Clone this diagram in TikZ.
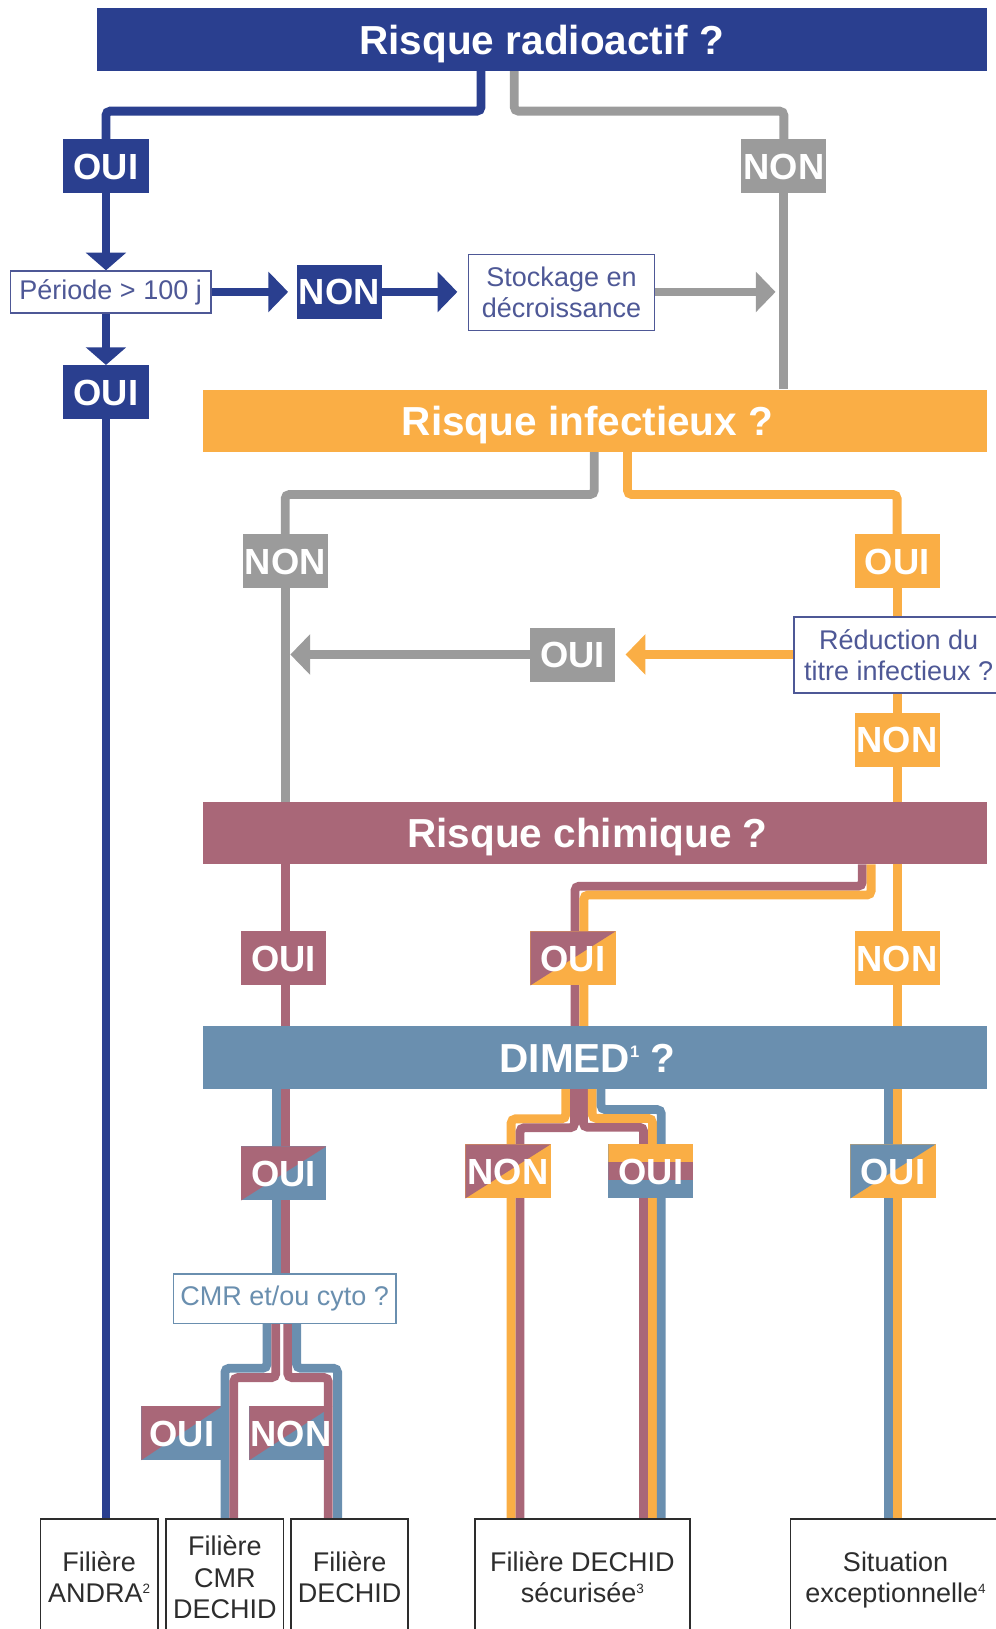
\documentclass[tikz,border=0pt]{standalone}
\usepackage{fontspec}
\setmainfont{Liberation Sans}
\usetikzlibrary{arrows.meta,backgrounds}
\definecolor{navy}{RGB}{42,63,143}
\definecolor{gris}{RGB}{155,155,155}
\definecolor{orng}{RGB}{250,174,69}
\definecolor{mauv}{RGB}{169,103,120}
\definecolor{stl}{RGB}{106,143,175}
\definecolor{boxtxt}{RGB}{78,88,150}
\definecolor{dark}{RGB}{45,45,45}
\newcommand{\supsmall}[1]{\raisebox{9pt}{\fontsize{13}{13}\selectfont #1}}
\newcommand{\supbig}[1]{\raisebox{14pt}{\fontsize{16}{16}\selectfont #1}}
\pgfdeclarelayer{bottom}
\pgfsetlayers{bottom,background,main}
\tikzset{
 conn/.style={line width=8.5pt, rounded corners=4pt},
 arrowD/.style={-{Triangle[width=38pt,length=17pt]}},
 arrowH/.style={-{Triangle[width=38pt,length=19pt]}},
 qbar/.style={minimum height=60pt, inner sep=0pt, text=white, font=\fontsize{39}{44}\selectfont\bfseries, text height=28pt, text depth=0pt},
 lbl/.style={minimum width=82pt, minimum height=52pt, inner sep=0pt, text=white, font=\fontsize{35}{40}\selectfont\bfseries, text height=25pt, text depth=0pt},
 lbltext/.style={inner sep=0pt, text=white, font=\fontsize{35}{40}\selectfont\bfseries, text height=25pt, text depth=0pt},
 duo/.style 2 args={fill=#2, path picture={\fill[#1] (path picture bounding box.south west) -- (path picture bounding box.north west) -- (path picture bounding box.north east) -- cycle;}},
 tristripe/.style={fill=stl, path picture={\fill[orng] (path picture bounding box.north west) rectangle ([yshift=-17pt]path picture bounding box.north east); \fill[mauv] ([yshift=-17pt]path picture bounding box.north west) rectangle ([yshift=-34pt]path picture bounding box.north east);}},
 qbox/.style={draw=boxtxt, line width=1.6pt, fill=white, text=boxtxt, font=\fontsize{26}{30}\selectfont, align=center, inner sep=0pt},
 botbox/.style={draw=dark, line width=1.6pt, fill=white, text=dark, font=\fontsize{26}{30.5}\selectfont, align=center, minimum height=112pt, inner sep=0pt, text depth=0pt},
}
\begin{document}
\begin{tikzpicture}[x=1pt,y=-1pt]
\useasboundingbox (0,0) rectangle (958,1568);
% bars
\node[qbar, fill=navy, minimum width=857pt] (radio) at (521.5,38) {Risque radioactif ?};
\node[qbar, fill=orng, minimum width=755pt] (inf) at (572.5,405) {Risque infectieux ?\hspace*{14pt}};
\node[qbar, fill=mauv, minimum width=755pt] (chim) at (572.5,802) {Risque chimique ?\hspace*{14pt}};
\node[qbar, fill=stl, minimum width=755pt] (dimed) at (572.5,1018) {DIMED\supbig{1} ?\hspace*{14pt}};
% labels
\node[lbl, fill=navy] (oui1) at (102,160) {OUI};
\node[lbl, fill=gris] (non1) at (754.5,160) {NON};
\node[lbl, fill=navy] (non2) at (326.5,281) {NON};
\node[lbl, fill=navy] (oui2) at (102,377.5) {OUI};
\node[lbl, fill=gris] (non3) at (274.5,540) {NON};
\node[lbl, fill=orng] (oui3) at (863.5,540) {OUI};
\node[lbl, fill=gris] (oui4) at (551,630) {OUI};
\node[lbl, fill=orng] (non4) at (863.5,712) {NON};
\node[lbl, fill=mauv] (oui5) at (273,922.5) {OUI};
\node[lbl, duo={mauv}{orng}] (oui6) at (551.5,922.5) {OUI};
\node[lbl, fill=orng] (non5) at (863.5,922.5) {NON};
\node[lbl, duo={mauv}{stl}] (oui7) at (273,1129.5) {OUI};
\node[lbl, duo={mauv}{orng}] (non6) at (489,1127.5) {NON};
\node[lbl, tristripe] (oui9) at (626.5,1127.5) {OUI};
\node[lbl, duo={stl}{orng}] (oui10) at (859.5,1127.5) {OUI};
\begin{pgfonlayer}{bottom}
\node[lbl, minimum width=78pt, duo={mauv}{stl}] (oui8) at (175,1379.5) {};
\node[lbl, minimum width=80pt, duo={mauv}{stl}] (non8) at (280,1379.5) {};
\end{pgfonlayer}
\node[lbltext] (oui8t) at (oui8) {OUI};
\node[lbltext] (non8t) at (non8) {NON};
% question boxes
\node[qbox, minimum width=193pt, minimum height=40pt] (per) at (106.5,281) {Période > 100 j};
\node[qbox, minimum width=179pt, minimum height=73pt] (stock) at (540.5,281.5) {Stockage en\\décroissance};
\node[qbox, minimum width=202pt, minimum height=73pt] (reduc) at (865,630.5) {Réduction du\\titre infectieux ?};
\node[qbox, draw=stl, text=stl, minimum width=214pt, minimum height=48pt] (cmr) at (274,1250) {CMR et/ou cyto ?};
% final boxes
\node[botbox, minimum width=113pt] (andra) at (95.5,1518) {Filière\\ANDRA\supsmall{2}};
\node[botbox, minimum width=113pt] (cmrd) at (216.5,1518) {Filière\\CMR\\DECHID};
\node[botbox, minimum width=113pt] (dech) at (336.5,1518) {Filière\\DECHID};
\node[botbox, minimum width=207pt] (sec) at (560.5,1518) {Filière DECHID\\sécurisée\supsmall{3}};
\node[botbox, minimum width=202pt] (sit) at (862,1518) {Situation\\exceptionnelle\supsmall{4}};
% coordinates
\coordinate (rO) at (463,68);
\coordinate (rN) at (495,68);
\coordinate (iN) at (572,435);
\coordinate (iO) at (604,435);
\coordinate (cM) at (274.5,832);
\coordinate (cMO) at (830,832);
\coordinate (cOO) at (838.5,832);
\coordinate (dM) at (553.5,988);
\coordinate (dO) at (562,988);
\coordinate (dbB1) at (266,1048);
\coordinate (dbO1) at (544.5,1048);
\coordinate (dbM1) at (553,1048);
\coordinate (dbM2) at (561.5,1048);
\coordinate (dbO2) at (570,1048);
\coordinate (dbB2) at (578.5,1048);
\coordinate (dbB3) at (855.5,1048);
\coordinate (sO1) at (492,1462);
\coordinate (sM1) at (500.5,1462);
\coordinate (sM2) at (619.5,1462);
\coordinate (sO2) at (628,1462);
\coordinate (sB2) at (636.5,1462);
\coordinate (cB1) at (257,1274);
\coordinate (cM1) at (265.5,1274);
\coordinate (cM2) at (277,1274);
\coordinate (cB2) at (285.5,1274);
\coordinate (kB1) at (216.5,1462);
\coordinate (kM1) at (225,1462);
\coordinate (kM2) at (316,1462);
\coordinate (kB2) at (325,1462);
% connectors
\begin{scope}[on background layer]
\draw[conn, navy] (rO) -- (463,107) -| (oui1.north);
\draw[conn, gris] (rN) -- (495,107) -| (non1.north);
\draw[conn, gris] (non1.south) -- (non1 |- inf.north);
\draw[conn, navy, arrowD] (oui1.south) -- (oui1 |- per.north);
\draw[conn, navy, arrowD] (oui2 |- per.south) -- (oui2.north);
\draw[conn, navy] (oui2.south) -- (oui2 |- andra.north);
\draw[conn, navy, arrowH, shorten >=8pt] (per.east) -- (non2.west);
\draw[conn, navy, arrowH, shorten >=10pt] (non2.east) -- (stock.west |- non2);
\draw[conn, gris, arrowH, shorten >=8pt] (stock.east |- non2) -- (non1 |- non2);
\draw[conn, gris] (iN) -- (572,476) -| (non3.north);
\draw[conn, gris] (non3.south) -- (non3 |- chim.north);
\draw[conn, orng] (iO) -- (604,476) -| (oui3.north);
\draw[conn, orng] (oui3.south) -- (oui3 |- sit.north);
\draw[conn, orng, arrowH, shorten >=10pt] (reduc.west |- oui4) -- (oui4.east);
\draw[conn, gris, arrowH, shorten >=5pt] (oui4.west) -- (oui4 -| non3);
\draw[conn, mauv] (cM) -- (cM |- cmr.north);
\draw[conn, mauv] (cMO) -- (830,853) -| (dM);
\draw[conn, orng] (cOO) -- (838.5,861.5) -| (dO);
\draw[conn, stl] (dbB1) -- (dbB1 |- cmr.north);
\draw[conn, orng] (dbO1) -- ++(0,29) -| (sO1);
\draw[conn, mauv] (dbM1) -- ++(0,37.5) -| (sM1);
\draw[conn, mauv] (dbM2) -- ++(0,37) -| (sM2);
\draw[conn, orng] (dbO2) -- ++(0,28.5) -| (sO2);
\draw[conn, stl] (dbB2) -- ++(0,20) -| (sB2);
\draw[conn, stl] (dbB3) -- (dbB3 |- sit.north);
\draw[conn, stl] (cB1) -- ++(0,43) -| (kB1);
\draw[conn, mauv] (cM1) -- ++(0,52) -| (kM1);
\draw[conn, mauv] (cM2) -- ++(0,52) -| (kM2);
\draw[conn, stl] (cB2) -- ++(0,43) -| (kB2);
\end{scope}
\end{tikzpicture}
\end{document}
